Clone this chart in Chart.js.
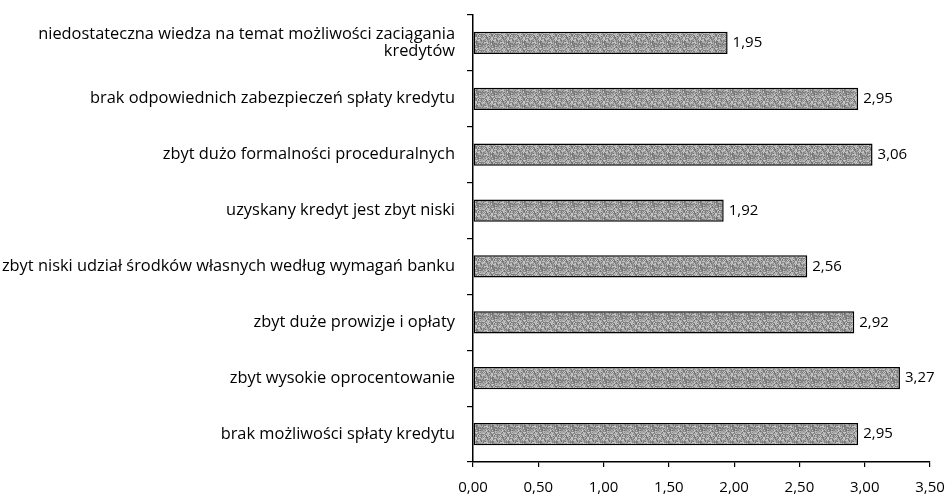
<!DOCTYPE html>
<html><head><meta charset="utf-8">
<script src="https://cdn.jsdelivr.net/npm/chart.js@4.4.0/dist/chart.umd.min.js"></script>
<style>html,body{margin:0;padding:0;background:#fff}#wrap{width:949px;height:495px;position:relative}</style>
</head><body><div id="wrap"><canvas id="c"></canvas></div>
<script>
const categories = [
  ['niedostateczna wiedza na temat możliwości zaciągania', 'kredytów'],
  'brak odpowiednich zabezpieczeń spłaty kredytu',
  'zbyt dużo formalności proceduralnych',
  'uzyskany kredyt jest zbyt niski',
  'zbyt niski udział środków własnych według wymagań banku',
  'zbyt duże prowizje i opłaty',
  'zbyt wysokie oprocentowanie',
  'brak możliwości spłaty kredytu'
];
const values = [1.95, 2.95, 3.06, 1.92, 2.56, 2.92, 3.27, 2.95];
const xTicks = [0, 0.5, 1, 1.5, 2, 2.5, 3, 3.5];

function makePattern() {
  const n = 16;
  const p = document.createElement('canvas');
  p.width = n; p.height = n;
  const g = p.getContext('2d');
  let s = 12345;
  for (let y = 0; y < n; y++) for (let x = 0; x < n; x++) {
    s = (s * 1103515245 + 12345) & 0x7fffffff;
    const r = (s >> 8) % 100;
    const v = r < 35 ? 135 : (r < 70 ? 170 : (r < 88 ? 198 : 115));
    g.fillStyle = 'rgb(' + v + ',' + v + ',' + v + ')';
    g.fillRect(x, y, 1, 1);
  }
  return document.getElementById('c').getContext('2d').createPattern(p, 'repeat');
}

const fmt = v => v.toFixed(2).replace('.', ',');
const FONT = '"Open Sans", "Noto Sans", sans-serif';

const valueLabels = {
  id: 'valueLabels',
  afterDatasetsDraw(chart) {
    const ctx = chart.ctx;
    const meta = chart.getDatasetMeta(0);
    ctx.save();
    ctx.font = '15px ' + FONT;
    ctx.fillStyle = '#000';
    ctx.textAlign = 'left';
    ctx.textBaseline = 'middle';
    meta.data.forEach((bar, i) => {
      ctx.fillText(fmt(values[i]), bar.x + 5, bar.y);
    });
    ctx.restore();
  }
};

new Chart(document.getElementById('c'), {
  type: 'bar',
  data: {
    labels: categories,
    datasets: [{
      data: values,
      backgroundColor: makePattern(),
      borderColor: '#000',
      borderWidth: 1.5,
      borderSkipped: false,
      categoryPercentage: 0.4,
      barPercentage: 1
    }]
  },
  options: {
    indexAxis: 'y',
    responsive: true,
    maintainAspectRatio: false,
    animation: false,
    layout: { padding: { top: 15, right: 19, left: 0, bottom: 0 } },
    plugins: { legend: { display: false }, tooltip: { enabled: false } },
    scales: {
      x: {
        min: 0, max: 3.5,
        afterBuildTicks: s => { s.ticks = xTicks.map(v => ({ value: v })); },
        afterFit: s => { s.height = 33; s.paddingLeft = 0; s.paddingRight = 0; },
        border: { display: true, color: '#000', width: 1.5 },
        grid: { display: true, drawOnChartArea: false, drawTicks: true, tickLength: 5, tickColor: '#000', lineWidth: 1.2 },
        ticks: { callback: v => fmt(v), color: '#000', font: { family: FONT, size: 15 }, padding: 12, maxRotation: 0 }
      },
      y: {
        afterFit: s => { s.width = 473; s.paddingTop = 0; s.paddingBottom = 0; },
        border: { display: true, color: '#000', width: 1.5 },
        grid: { display: true, drawOnChartArea: false, drawTicks: true, tickLength: 6, tickColor: '#000', lineWidth: 1.2, offset: true },
        ticks: { color: '#000', font: { family: FONT, size: 16.4, lineHeight: 1.05 }, padding: 12 }
      }
    }
  },
  plugins: [valueLabels]
});
</script></body></html>
